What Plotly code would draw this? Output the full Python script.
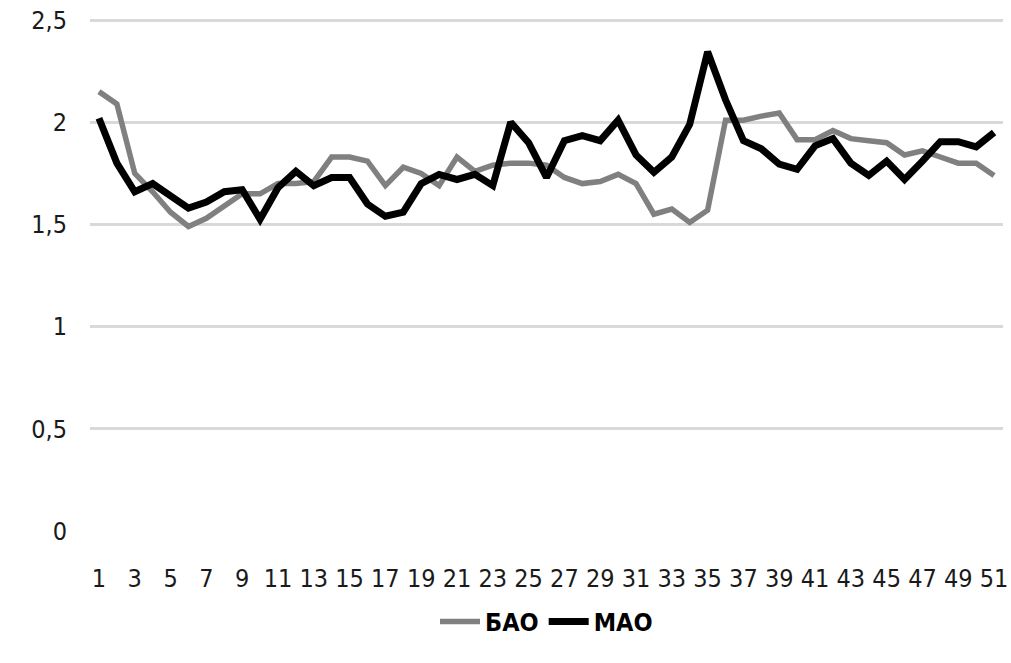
import plotly.graph_objects as go

weeks = list(range(1, 52))
bao = [2.15, 2.09, 1.75, 1.66, 1.56, 1.49, 1.53, 1.59, 1.65, 1.65,
       1.70, 1.70, 1.71, 1.83, 1.83, 1.81, 1.69, 1.78, 1.75, 1.69,
       1.83, 1.76, 1.79, 1.80, 1.80, 1.79, 1.73, 1.70, 1.71, 1.745,
       1.70, 1.55, 1.575, 1.51, 1.57, 2.01, 2.01, 2.03, 2.045, 1.915,
       1.915, 1.96, 1.92, 1.91, 1.90, 1.84, 1.86, 1.83, 1.80, 1.80, 1.74]
mao = [2.02, 1.80, 1.66, 1.70, 1.64, 1.58, 1.61, 1.66, 1.67, 1.525,
       1.68, 1.76, 1.69, 1.73, 1.73, 1.60, 1.54, 1.56, 1.70, 1.745,
       1.72, 1.745, 1.69, 2.00, 1.90, 1.73, 1.91, 1.935, 1.91, 2.01,
       1.84, 1.755, 1.83, 1.99, 2.345, 2.11, 1.91, 1.87, 1.795, 1.77,
       1.885, 1.92, 1.80, 1.74, 1.81, 1.72, 1.81, 1.905, 1.905, 1.88, 1.95]
x_ticks = list(range(1, 52, 2))
y_ticks = [0, 0.5, 1, 1.5, 2, 2.5]
y_ticktext = ["0", "0,5", "1", "1,5", "2", "2,5"]

FONT = "DejaVu Sans Condensed, Liberation Sans Narrow, sans-serif"

fig = go.Figure()
fig.add_trace(go.Scatter(x=weeks, y=bao, mode="lines", name="БАО",
                         line=dict(color="#808080", width=5.5)))
fig.add_trace(go.Scatter(x=weeks, y=mao, mode="lines", name="МАО",
                         line=dict(color="#000000", width=7)))

fig.update_layout(
    template="none",
    width=1011, height=663,
    margin=dict(l=90, r=8, t=16, b=132, autoexpand=False),
    paper_bgcolor="white", plot_bgcolor="white",
    font=dict(family=FONT, size=25, color="#1a1a1a"),
    showlegend=True,
    legend=dict(orientation="h", x=0.5, xanchor="center", y=-0.176, yanchor="middle",
                font=dict(family=FONT, size=25, color="#000000", weight="bold"),
                itemwidth=40, traceorder="normal", bgcolor="rgba(0,0,0,0)"),
    xaxis=dict(range=[0.5, 51.5], tickmode="array", tickvals=x_ticks,
               showgrid=False, zeroline=False, showline=False, ticks="",
               automargin=False,
               ticklabelstandoff=30, tickfont=dict(family=FONT, size=25)),
    yaxis=dict(range=[0, 2.52], tickmode="array", tickvals=y_ticks, ticktext=y_ticktext,
               showgrid=True, gridcolor="#d9d9d9", gridwidth=2.5,
               zeroline=False, showline=False, ticks="", automargin=False,
               ticklabelstandoff=22, tickfont=dict(family=FONT, size=25)),
)

fig.write_html("out.html", config={"displayModeBar": False},
               post_script="document.body.style.margin='0';")
